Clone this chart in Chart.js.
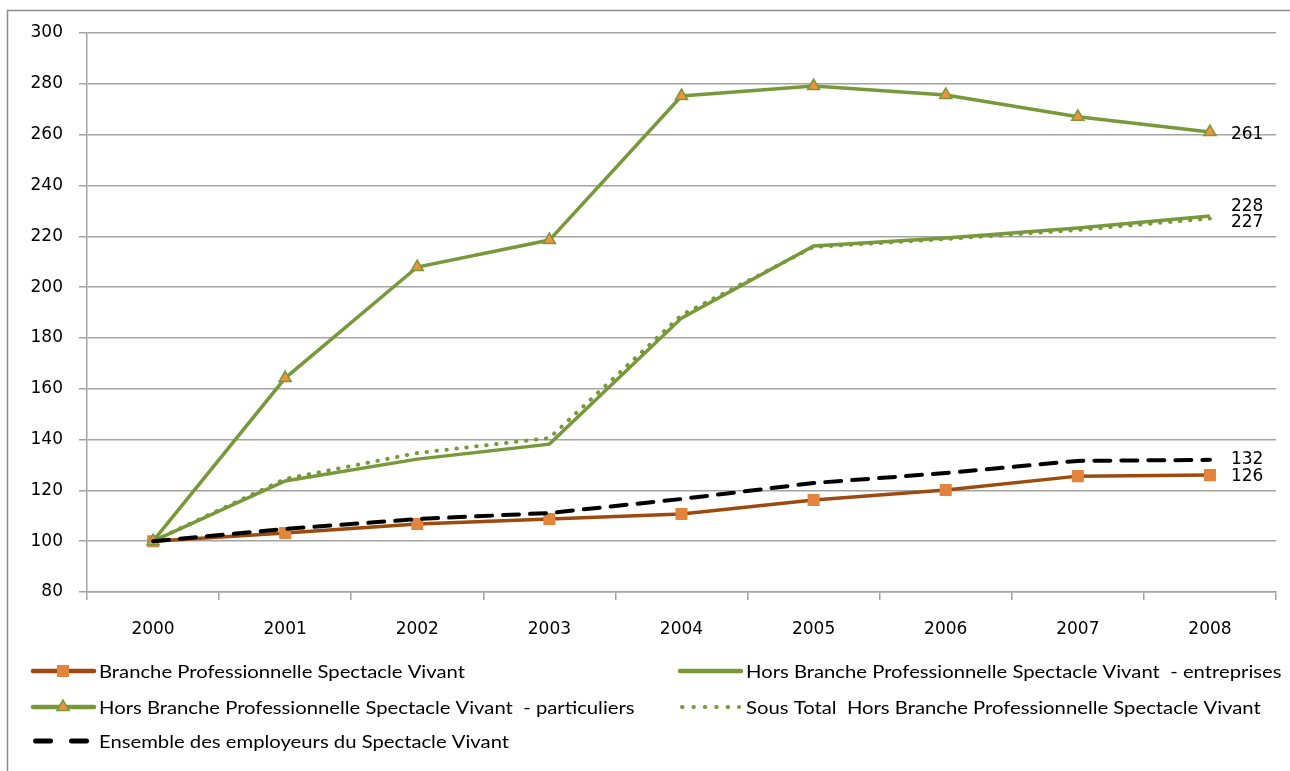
<!DOCTYPE html>
<html>
<head>
    <meta charset="UTF-8">
    <title>Spectacle Vivant</title>
    <script src="https://cdn.jsdelivr.net/npm/chart.js"></script>
    <style>
        html, body { margin: 0; padding: 0; background: #fff; }
        canvas { display: block; }
    </style>
</head>
<body>
    <canvas id="myChart" width="1290" height="771"></canvas>

    <script>
        // donnees (indice base 100 en 2000)
        var years = ['2000', '2001', '2002', '2003', '2004', '2005', '2006', '2007', '2008'];
        var branche = [100, 103.2, 106.8, 108.7, 110.7, 116.2, 120.1, 125.6, 126];
        var horsEntreprises = [100, 123.7, 132.3, 138.2, 187.8, 216.2, 219.3, 223.3, 228];
        var horsParticuliers = [100, 164.2, 207.9, 218.5, 275.2, 279.1, 275.6, 267, 261];
        var sousTotal = [100, 124.5, 134.7, 140.6, 189, 215.8, 218.9, 222.5, 227];
        var ensemble = [100, 104.8, 108.7, 111.1, 116.6, 122.9, 126.8, 131.6, 132];
        var yTicks = [80, 100, 120, 140, 160, 180, 200, 220, 240, 260, 280, 300];

        var green = '#77993A';
        var brown = '#9C4A0E';
        var orange = '#E2843C';
        var gridColor = '#a3a3a3';

        // petit decalage vertical des etiquettes de fin
        var endLabelNudge = [1, -9, 2, 4, 0];

        // cadre exterieur
        var framePlugin = {
            id: 'frame',
            beforeDraw: function (chart) {
                var ctx = chart.ctx;
                ctx.save();
                ctx.strokeStyle = '#8c8c8c';
                ctx.lineWidth = 1.5;
                ctx.strokeRect(7.5, 10.5, 1300, 800);
                ctx.restore();
            }
        };

        function drawMarker(ctx, style, x, y, r, fill, stroke, bw) {
            ctx.beginPath();
            if (style === 'rect') {
                var s = r * Math.SQRT1_2;
                ctx.rect(x - s, y - s, 2 * s, 2 * s);
            } else if (style === 'triangle') {
                ctx.moveTo(x, y - r);
                ctx.lineTo(x + r * 0.866, y + r * 0.5);
                ctx.lineTo(x - r * 0.866, y + r * 0.5);
                ctx.closePath();
            }
            ctx.fillStyle = fill;
            ctx.fill();
            if (bw > 0) {
                ctx.lineWidth = bw;
                ctx.strokeStyle = stroke;
                ctx.stroke();
            }
        }

        // legende sur deux colonnes
        var legendPlugin = {
            id: 'twoColLegend',
            afterDraw: function (chart) {
                var ctx = chart.ctx;
                var cols = [33, 680];
                var rows = [671, 707, 741];
                chart.data.datasets.forEach(function (ds, i) {
                    var x = cols[i % 2];
                    var y = rows[Math.floor(i / 2)];
                    var w = ds.legendWidth || ds.borderWidth;
                    var cap = (ds.borderCapStyle === 'round') ? w / 2 : 0;
                    ctx.save();
                    ctx.strokeStyle = ds.borderColor;
                    ctx.lineWidth = w;
                    ctx.lineCap = ds.borderCapStyle || 'round';
                    ctx.setLineDash(ds.legendDash || []);
                    ctx.beginPath();
                    ctx.moveTo(x + cap, y);
                    ctx.lineTo(x + 61 - cap, y);
                    ctx.stroke();
                    ctx.setLineDash([]);
                    if (ds.pointRadius > 0) {
                        drawMarker(ctx, ds.pointStyle, x + 30, y, ds.pointRadius,
                            ds.pointBackgroundColor, ds.pointBorderColor, ds.pointBorderWidth);
                    }
                    ctx.translate(x + 66, y + 1);
                    ctx.scale(1.125, 1);
                    ctx.fillStyle = '#000';
                    ctx.font = '18px Lato';
                    ctx.textBaseline = 'middle';
                    ctx.textAlign = 'left';
                    ctx.fillText(ds.label, 0, 0);
                    ctx.restore();
                });
            }
        };

        // etiquettes de valeur a droite du dernier point
        var endLabelPlugin = {
            id: 'endLabels',
            afterDatasetsDraw: function (chart) {
                var ctx = chart.ctx;
                ctx.save();
                ctx.font = '17px "DejaVu Sans"';
                ctx.fillStyle = '#000';
                ctx.textBaseline = 'middle';
                ctx.textAlign = 'left';
                chart.data.datasets.forEach(function (ds, i) {
                    var meta = chart.getDatasetMeta(i);
                    var last = meta.data[meta.data.length - 1];
                    var v = ds.data[ds.data.length - 1];
                    ctx.fillText(String(Math.round(v)), last.x + 21, last.y + endLabelNudge[i]);
                });
                ctx.restore();
            }
        };

        var ctx = document.getElementById('myChart').getContext('2d');
        var myChart = new Chart(ctx, {
            type: 'line',
            data: {
                labels: years,
                datasets: [{
                    label: 'Branche Professionnelle Spectacle Vivant',
                    data: branche,
                    borderColor: brown,
                    borderWidth: 3.5,
                    legendWidth: 4.5,
                    pointStyle: 'rect',
                    pointRadius: 8.5,
                    pointBackgroundColor: orange,
                    pointBorderColor: orange,
                    pointBorderWidth: 0,
                    order: 5
                }, {
                    label: 'Hors Branche Professionnelle Spectacle Vivant  - entreprises',
                    data: horsEntreprises,
                    borderColor: green,
                    borderWidth: 3.5,
                    legendWidth: 4.5,
                    pointRadius: 0,
                    order: 4
                }, {
                    label: 'Hors Branche Professionnelle Spectacle Vivant  - particuliers',
                    data: horsParticuliers,
                    borderColor: green,
                    borderWidth: 3.5,
                    legendWidth: 4.5,
                    pointStyle: 'triangle',
                    pointRadius: 7,
                    pointBackgroundColor: '#F0923F',
                    pointBorderColor: green,
                    pointBorderWidth: 1.5,
                    order: 3
                }, {
                    label: 'Sous Total  Hors Branche Professionnelle Spectacle Vivant',
                    data: sousTotal,
                    borderColor: green,
                    borderWidth: 4,
                    borderDash: [0.5, 9.5],
                    borderCapStyle: 'round',
                    legendDash: [0.5, 10.9],
                    pointRadius: 0,
                    order: 2
                }, {
                    label: 'Ensemble des employeurs du Spectacle Vivant',
                    data: ensemble,
                    borderColor: '#000',
                    borderWidth: 4,
                    legendWidth: 5,
                    borderDash: [16, 11],
                    borderCapStyle: 'round',
                    legendDash: [15, 21],
                    pointRadius: 0,
                    order: 1
                }]
            },
            options: {
                responsive: false,
                animation: false,
                events: [],
                layout: {
                    padding: { left: 0, top: 33, right: 14, bottom: 129 }
                },
                plugins: {
                    legend: { display: false },
                    tooltip: { enabled: false }
                },
                elements: {
                    line: { tension: 0 }
                },
                scales: {
                    x: {
                        offset: true,
                        afterFit: function (scale) { scale.height = 50; },
                        grid: {
                            offset: true,
                            drawOnChartArea: false,
                            tickLength: 8,
                            color: gridColor,
                            lineWidth: 1.5
                        },
                        border: { color: gridColor, width: 1.5 },
                        ticks: {
                            color: '#000',
                            padding: 19,
                            font: { family: 'DejaVu Sans', size: 17 }
                        }
                    },
                    y: {
                        min: 80,
                        max: 300,
                        afterFit: function (scale) { scale.width = 87; },
                        afterBuildTicks: function (scale) {
                            scale.ticks = yTicks.map(function (v) { return { value: v }; });
                        },
                        grid: {
                            color: gridColor,
                            lineWidth: 1.5,
                            tickLength: 8
                        },
                        border: { color: gridColor, width: 1.5 },
                        ticks: {
                            color: '#000',
                            padding: 16,
                            font: { family: 'DejaVu Sans', size: 17 }
                        }
                    }
                }
            },
            plugins: [framePlugin, legendPlugin, endLabelPlugin]
        });
    </script>
</body>
</html>
